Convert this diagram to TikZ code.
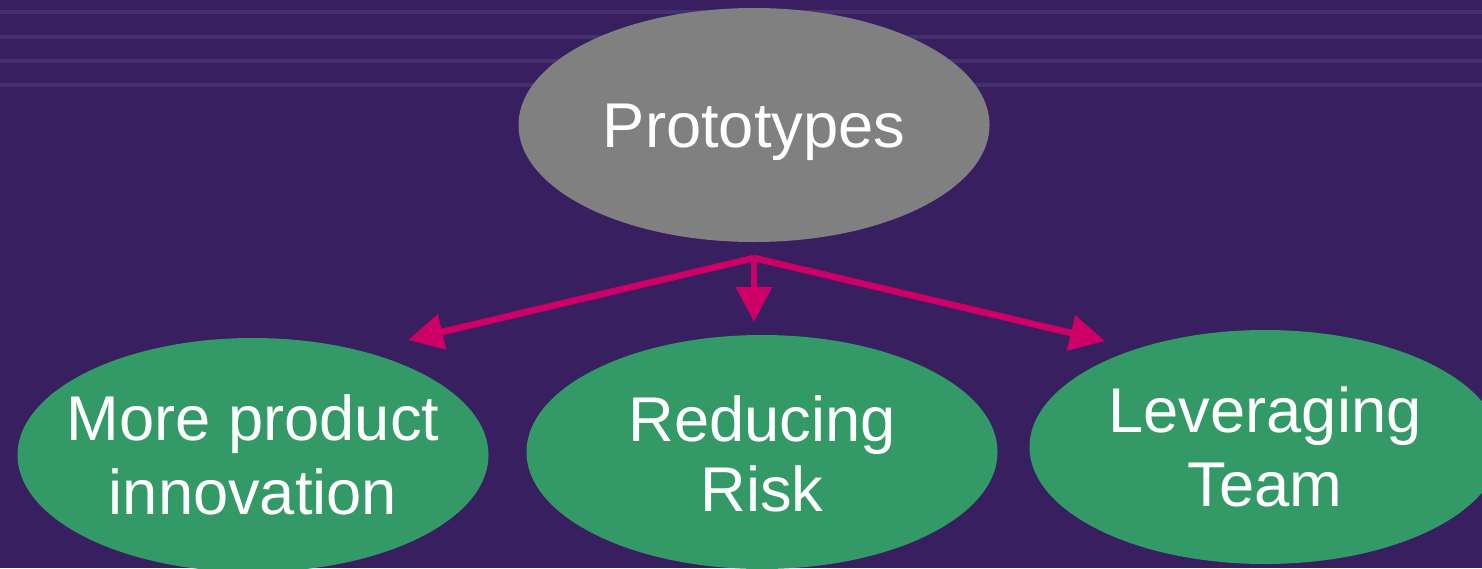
\documentclass[tikz,border=0pt]{standalone}
\usepackage{fontspec}
\setmainfont{Liberation Sans}
\usepackage{tikz}
\usetikzlibrary{shapes.geometric,arrows.meta}

\definecolor{slide}{HTML}{371F60}
\definecolor{stripe}{HTML}{46306E}
\definecolor{topgray}{HTML}{808080}
\definecolor{leafgreen}{HTML}{339966}
\definecolor{linkpink}{HTML}{CC0066}

\begin{document}
\begin{tikzpicture}[
        bubble/.style={ellipse, inner xsep=-4mm, inner ysep=0pt, minimum width=4.71cm, minimum height=2.34cm,
            text=white, align=center, font=\fontsize{18}{21}\selectfont},
        link/.style={linkpink, line width=1.9pt, -{Triangle[length=3.5mm, width=3.5mm]}}]
        \useasboundingbox (0,0) rectangle (14.82,5.68);
        \fill[slide] (0,0) rectangle (14.82,5.68);
        \clip (0,0) rectangle (14.82,5.68);
        \foreach \y in {5.56,5.31,5.07,4.83}
            \draw[stripe, line width=1.2pt] (0,\y) -- (14.82,\y);
        \node[bubble, fill=topgray] (P) at (7.54,4.43) {\raisebox{-0.7mm}[\height][\depth]{Prototypes}};
        \node[bubble, fill=leafgreen] (M) at (2.53,1.13) {More product\\innovation};
        \node[bubble, fill=leafgreen] (R) at (7.62,1.16) {\raisebox{-0.4mm}[\height][\depth]{Reducing}\\Risk};
        \node[bubble, fill=leafgreen] (L) at (12.65,1.21) {Leveraging\\Team};
        \coordinate (hub) at (7.54,3.10);
        \coordinate (toM) at (4.08,2.28);
        \coordinate (toR) at (7.54,2.46);
        \coordinate (toL) at (11.05,2.27);
        \draw[link] (hub) -- (toM);
        \draw[link] (hub) -- (toR);
        \draw[link] (hub) -- (toL);
    \end{tikzpicture}
\end{document}
